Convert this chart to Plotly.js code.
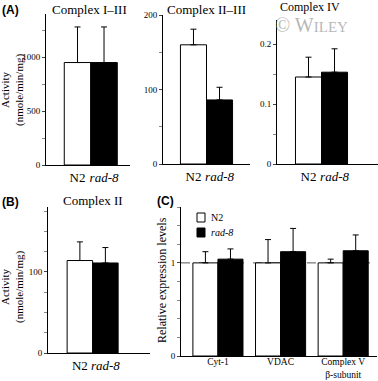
<!DOCTYPE html>
<html><head><meta charset="utf-8">
<script src="https://cdn.plot.ly/plotly-3.0.1.min.js"></script>
<style>html,body{margin:0;padding:0;background:#fff}#chart{width:378px;height:381px}</style>
</head><body><div id="chart"></div>
<script>
const groups = ['N2', 'rad-8'];
const c13Mean = [950, 950];
const c13Err = [330, 330];
const c23Mean = [160, 86];
const c23Err = [21, 17];
const c4Mean = [0.145, 0.153];
const c4Err = [0.033, 0.039];
const c2Mean = [114, 111];
const c2Err = [23, 19];
const proteins = ['Cyt-1', 'VDAC', 'Complex V<br>β-subunit'];
const n2Expr = [1, 1, 1];
const n2ExprErr = [0.12, 0.25, 0.04];
const rad8Expr = [1.04, 1.12, 1.13];
const rad8ExprErr = [0.11, 0.25, 0.17];

const W = 378, H = 381;
const serif = 'Liberation Serif, Times New Roman, serif';
const groupTicks = ['N2', '<i>rad-8</i>'];

function actTrace(mean, err, xa, ya) {
  return {
    type: 'bar', x: mean.map((_, i) => i), y: mean, width: 1,
    xaxis: xa, yaxis: ya, showlegend: false,
    marker: {color: ['white', 'black'], line: {color: 'black', width: 1}},
    error_y: {type: 'data', symmetric: false, array: err, arrayminus: mean.map(() => 0),
      color: 'black', thickness: 1, width: 3}
  };
}
const idx = proteins.map((_, i) => i);
const traces = [
  actTrace(c13Mean, c13Err, 'x', 'y'),
  actTrace(c23Mean, c23Err, 'x2', 'y2'),
  actTrace(c4Mean, c4Err, 'x3', 'y3'),
  actTrace(c2Mean, c2Err, 'x4', 'y4'),
  {type: 'bar', name: 'N2', x: idx.map(i => i - 0.2), y: n2Expr, width: 0.4, showlegend: false,
   xaxis: 'x5', yaxis: 'y5', marker: {color: 'white', line: {color: 'black', width: 1}},
   error_y: {type: 'data', symmetric: false, array: n2ExprErr, arrayminus: n2Expr.map(() => 0), color: 'black', thickness: 1, width: 3}},
  {type: 'bar', name: 'rad-8', x: idx.map(i => i + 0.2), y: rad8Expr, width: 0.4, showlegend: false,
   xaxis: 'x5', yaxis: 'y5', marker: {color: 'black', line: {color: 'black', width: 1}},
   error_y: {type: 'data', symmetric: false, array: rad8ExprErr, arrayminus: rad8Expr.map(() => 0), color: 'black', thickness: 1, width: 3}}
];

function px(a, b) { return [a / W, b / W]; }
function py(top, bottom) { return [1 - bottom / H, 1 - top / H]; }

function xax(domain, range, anchor, tickvals, ticktext, size) {
  return {domain, range, anchor, showline: true, linecolor: 'black', linewidth: 1,
    showgrid: false, zeroline: false, ticks: '', tickvals, ticktext,
    tickfont: {family: serif, size: size, color: 'black'}, fixedrange: true};
}
function yax(domain, range, anchor, dtick, minorDtick) {
  return {domain, range, anchor, showline: true, linecolor: 'black', linewidth: 1,
    showgrid: false, zeroline: false, ticks: 'outside', ticklen: 3, tickwidth: 1, tickcolor: '#444',
    dtick, tick0: 0, minor: {dtick: minorDtick, tick0: 0, ticks: 'outside', ticklen: 3, tickcolor: '#888', showgrid: false},
    tickfont: {family: serif, size: 9, color: 'black'}, fixedrange: true};
}
function paperText(text, x, y, size, opts) {
  return Object.assign({text, x: x / W, y: 1 - y / H, xref: 'paper', yref: 'paper',
    xanchor: 'center', yanchor: 'middle', showarrow: false,
    font: {family: serif, size, color: 'black'}}, opts || {});
}
const sansBold = {family: 'Liberation Sans, Arial', size: 12, color: 'black'};

const xC = xax(px(181, 377), [-0.59, 2.54], 'y5', idx, proteins, 9.5);
xC.ticklabelstandoff = -3;

const layout = {
  width: W, height: H, margin: {l: 0, r: 0, t: 0, b: 0},
  paper_bgcolor: 'white', plot_bgcolor: 'rgba(0,0,0,0)',
  xaxis: xax(px(46, 130), [-1.19, 1.98], 'y', [0, 1], groupTicks, 13),
  yaxis: yax(py(14, 165), [0, 1400], 'x', 500, 250),
  xaxis2: xax(px(163, 250), [-1.17, 2.17], 'y2', [0, 1], groupTicks, 13),
  yaxis2: yax(py(15, 164), [0, 200], 'x2', 100, 50),
  xaxis3: xax(px(277, 378), [-1.21, 2.67], 'y3', [0, 1], groupTicks, 13),
  yaxis3: yax(py(20, 164), [0, 0.24], 'x3', 0.1, 0.05),
  xaxis4: xax(px(48, 150), [-1.25, 2.75], 'y4', [0, 1], groupTicks, 13),
  yaxis4: yax(py(207, 353), [0, 180], 'x4', 100, 25),
  xaxis5: xC,
  yaxis5: yax(py(207, 356), [0, 1.6], 'x5', 1, 0.2),
  showlegend: false,
  barmode: 'overlay',
  shapes: [
    {type: 'line', xref: 'x5 domain', yref: 'y5', x0: 0, x1: 1, y0: 1, y1: 1,
     line: {color: '#555', width: 1, dash: 'dash'}, layer: 'below'},
    {type: 'rect', xref: 'paper', yref: 'paper', x0: 197 / W, x1: 205 / W, y0: 1 - 222 / H, y1: 1 - 213 / H,
     fillcolor: 'white', line: {color: 'black', width: 1}},
    {type: 'rect', xref: 'paper', yref: 'paper', x0: 197 / W, x1: 205 / W, y0: 1 - 237 / H, y1: 1 - 228 / H,
     fillcolor: 'black', line: {color: 'black', width: 1}}
  ],
  annotations: [
    paperText('<b>(A)</b>', 0, 1, 12, {xanchor: 'left', yanchor: 'top', font: sansBold}),
    paperText('<b>(B)</b>', 0, 193, 12, {xanchor: 'left', yanchor: 'top', font: sansBold}),
    paperText('<b>(C)</b>', 155, 192, 12, {xanchor: 'left', yanchor: 'top', font: sansBold}),
    paperText('Complex I–III', 89, 0, 13, {yanchor: 'top'}),
    paperText('Complex II–III', 206, 0, 13, {yanchor: 'top'}),
    paperText('Complex IV', 310, -2, 12, {yanchor: 'top'}),
    paperText('Complex II', 93, 191, 13, {yanchor: 'top'}),
    paperText('© W<span style="font-size:15px">ILEY</span>', 311, 25, 20, {font: {family: serif, size: 20, color: 'rgba(150,150,150,0.7)'}}),
    paperText('Activity<br>(nmole/min/mg)', 12, 90, 11, {textangle: -90}),
    paperText('Activity<br>(nmole/min/mg)', 12, 287, 11, {textangle: -90}),
    paperText('Relative expression levels', 162, 280, 12, {textangle: -90}),
    paperText('N2', 209, 217.5, 10, {xanchor: 'left'}),
    paperText('<i>rad-8</i>', 209, 232.5, 10, {xanchor: 'left'})
  ]
};
Plotly.newPlot('chart', traces, layout, {displayModeBar: false, staticPlot: true});
</script></body></html>
